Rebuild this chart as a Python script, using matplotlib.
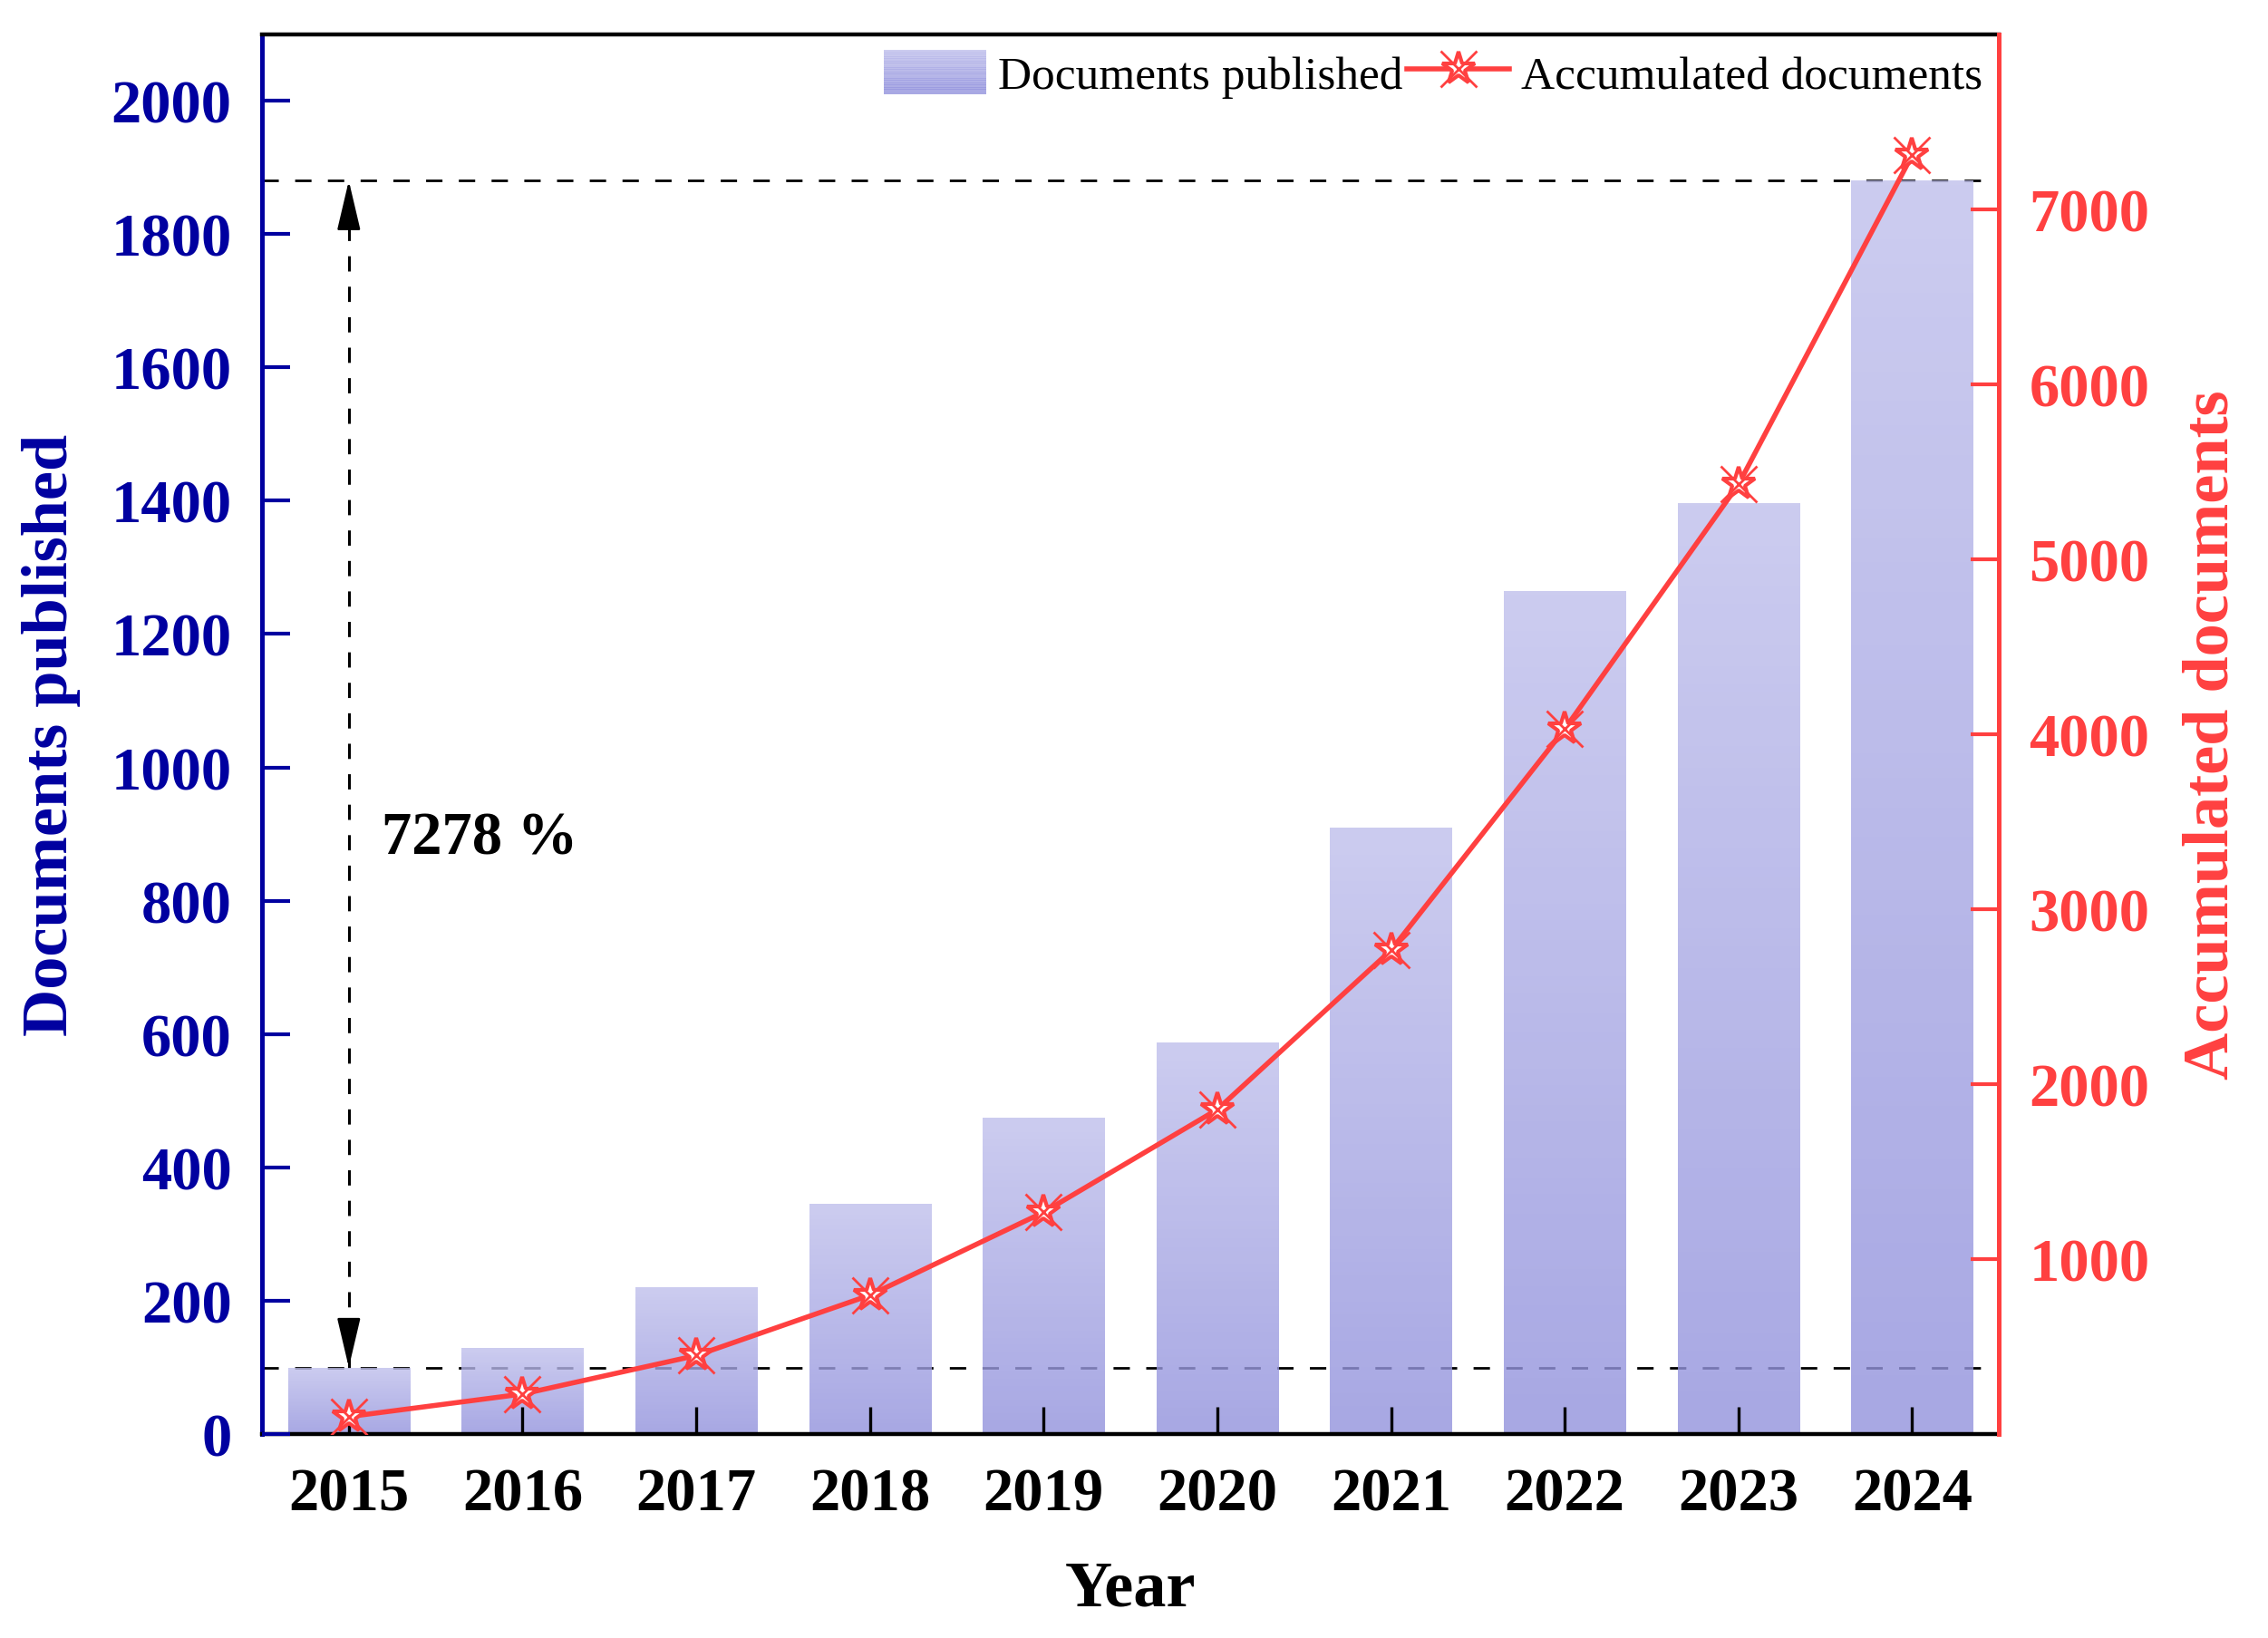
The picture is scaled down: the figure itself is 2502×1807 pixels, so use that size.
import matplotlib
matplotlib.use("Agg")
import numpy as np
import matplotlib.pyplot as plt
from matplotlib.colors import LinearSegmentedColormap
from matplotlib.patches import Rectangle
from matplotlib.legend_handler import HandlerBase, HandlerTuple

# data
years = [2015, 2016, 2017, 2018, 2019, 2020, 2021, 2022, 2023, 2024]
published = [100, 129, 220, 345, 474, 587, 910, 1264, 1397, 1880]
accumulated = [100, 229, 449, 794, 1268, 1855, 2765, 4029, 5426, 7308]
growth_label = "7278 %"

plt.rcParams['font.family'] = ['Liberation Serif', 'DejaVu Serif']
plt.rcParams['font.weight'] = 'bold'

BLUE = '#0000A0'
RED = '#FF4040'
TOP_C = (192/255, 192/255, 236/255)
BOT_C = (146/255, 146/255, 221/255)
BAR_ALPHA = 0.8
grad_cmap = LinearSegmentedColormap.from_list('bar_grad', [BOT_C, TOP_C])


class GradientHandler(HandlerBase):
    """legend box with the same vertical gradient as the bars"""

    def create_artists(self, legend, orig_handle, xdescent, ydescent,
                       width, height, fontsize, trans):
        n = 20
        arts = []
        for i in range(n):
            c = grad_cmap(i / (n - 1))
            r = Rectangle((-xdescent, -ydescent + height * i / n), width,
                          height / n + 0.3, facecolor=c, edgecolor='none',
                          alpha=BAR_ALPHA, transform=trans)
            arts.append(r)
        return arts


fig = plt.figure(figsize=(12.51, 9.04), dpi=200)
ax = fig.add_axes([0.1155, 0.1244, 0.7659, 0.8543])
ax2 = ax.twinx()

# bars with per-bar gradient
bars = ax.bar(years, published, width=0.7, facecolor='none', edgecolor='none')
grad = np.linspace(0, 1, 256).reshape(-1, 1)
for b in bars:
    x0, w, h = b.get_x(), b.get_width(), b.get_height()
    im = ax.imshow(grad, cmap=grad_cmap, extent=(x0, x0 + w, 0, h),
                   origin='lower', aspect='auto', alpha=BAR_ALPHA, zorder=2)
    im.set_clip_path(b)

# reference lines and growth arrow
dash = (0, (6.5, 6.5))
top_v, low_v = published[-1], published[0]
ax.axhline(top_v, color='black', lw=1, ls=dash, zorder=1)
ax.axhline(low_v, color='black', lw=1, ls=dash, zorder=1)
ax.plot([years[0], years[0]], [low_v, top_v], color='black', lw=1.1,
        ls=(0, (5.5, 5.5)), zorder=1)
head = dict(arrowstyle='-|>,head_length=0.85,head_width=0.2',
            mutation_scale=20, color='black', lw=1, shrinkA=0, shrinkB=0)
ax.annotate('', xy=(years[0], top_v), xytext=(0, -17),
            textcoords='offset points', arrowprops=head)
ax.annotate('', xy=(years[0], low_v), xytext=(0, 17),
            textcoords='offset points', arrowprops=head)
ax.text(years[0] + 0.19, 893, growth_label, fontsize=24, fontweight='bold',
        ha='left', va='center')

# accumulated line
l1, = ax2.plot(years, accumulated, color=RED, lw=2.0, marker='*',
               markersize=13.5, markerfacecolor='white', markeredgecolor=RED,
               markeredgewidth=1.5, zorder=3)
l2, = ax2.plot(years, accumulated, ls='none', marker='x', markersize=14.5,
               markeredgecolor=RED, markeredgewidth=1.0, zorder=4)

ax.set_xlim(2014.5, 2024.5)
ax.set_ylim(0, 2100)
ax2.set_ylim(0, 8000)
ax.set_xticks(years)
ax.set_yticks(range(0, 2001, 200))
ax2.set_yticks(range(1000, 7001, 1000))

ax.set_axisbelow(False)
ax.tick_params(axis='x', direction='in', length=10.8, width=1.2,
               labelsize=24, pad=13, colors='black')
ax.tick_params(axis='y', direction='in', length=11, width=1.5,
               labelsize=24, pad=12, colors=BLUE)
ax2.tick_params(axis='y', direction='in', length=11, width=1.5,
                labelsize=24, pad=12, colors=RED)

for lab in ax.get_xticklabels() + ax.get_yticklabels() + ax2.get_yticklabels():
    lab.set_fontweight('bold')

for s in ['top', 'bottom']:
    ax.spines[s].set_linewidth(1.6)
    ax.spines[s].set_color('black')
ax.spines['left'].set_color(BLUE)
ax.spines['left'].set_linewidth(1.8)
ax.spines['right'].set_visible(False)
for s in ['top', 'bottom', 'left']:
    ax2.spines[s].set_visible(False)
ax2.spines['right'].set_color(RED)
ax2.spines['right'].set_linewidth(1.8)

ax.set_xlabel('Year', fontsize=26, fontweight='bold', labelpad=15)
ax.set_ylabel('Documents published', fontsize=26, fontweight='bold',
              color=BLUE, labelpad=12)
ax2.set_ylabel('Accumulated documents', fontsize=26, fontweight='bold',
               color=RED, labelpad=13)

patch_proxy = Rectangle((0, 0), 1, 1)
leg = ax2.legend([patch_proxy, (l1, l2)],
                 ['Documents published', 'Accumulated documents'],
                 handler_map={Rectangle: GradientHandler(),
                              tuple: HandlerTuple(ndivide=1)},
                 loc='upper right', bbox_to_anchor=(1.0, 1.0), ncol=2,
                 frameon=False, prop={'size': 18.5, 'weight': 'normal'},
                 handlelength=2.2, handleheight=1.07, handletextpad=0.25,
                 columnspacing=0.1, borderaxespad=0.15, borderpad=0.2)

fig.savefig('out.png', dpi=200)
